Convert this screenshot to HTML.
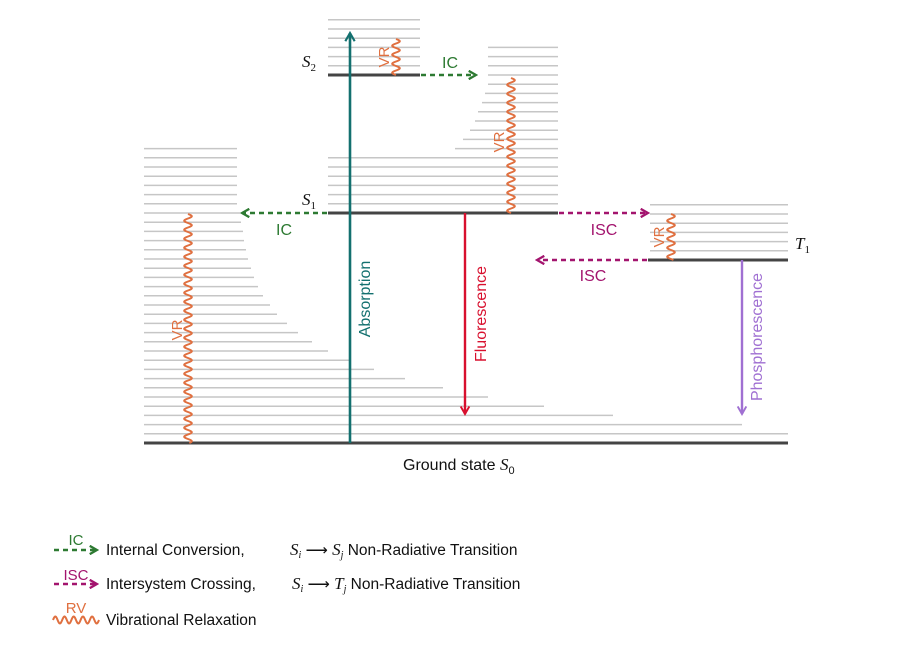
<!DOCTYPE html>
<html><head><meta charset="utf-8">
<style>
html,body{margin:0;padding:0;background:#fff;}
svg{display:block;}
text{font-family:"Liberation Sans",sans-serif;}
.m{font-family:"Liberation Serif",serif;font-style:italic;}
</style></head>
<body>
<svg id="chart" width="903" height="650" viewBox="0 0 903 650" xmlns="http://www.w3.org/2000/svg">
<defs>
<marker id="ahG" viewBox="0 0 10 10" refX="8" refY="5" markerWidth="4" markerHeight="4" orient="auto"><path d="M1,1 L8,5 L1,9" fill="none" stroke="#2d7a32" stroke-width="2.2"/></marker>
<marker id="ahM" viewBox="0 0 10 10" refX="8" refY="5" markerWidth="4" markerHeight="4" orient="auto"><path d="M1,1 L8,5 L1,9" fill="none" stroke="#a3146e" stroke-width="2.2"/></marker>
<marker id="ahT" viewBox="0 0 10 10" refX="8" refY="5" markerWidth="4.5" markerHeight="4.5" orient="auto"><path d="M1,1 L8,5 L1,9" fill="none" stroke="#13706f" stroke-width="1.8"/></marker>
<marker id="ahR" viewBox="0 0 10 10" refX="8" refY="5" markerWidth="4.5" markerHeight="4.5" orient="auto"><path d="M1,1 L8,5 L1,9" fill="none" stroke="#d8102e" stroke-width="1.8"/></marker>
<marker id="ahP" viewBox="0 0 10 10" refX="8" refY="5" markerWidth="4.5" markerHeight="4.5" orient="auto"><path d="M1,1 L8,5 L1,9" fill="none" stroke="#a070d2" stroke-width="1.8"/></marker>
</defs>
<g id="vib"></g>
<g id="levels"></g>
<g id="waves"></g>

<line x1="350" y1="443" x2="350" y2="33" stroke="#13706f" stroke-width="2.6" marker-end="url(#ahT)"/>
<line x1="465" y1="213" x2="465" y2="414" stroke="#d8102e" stroke-width="2.4" marker-end="url(#ahR)"/>
<line x1="742" y1="260" x2="742" y2="414" stroke="#a070d2" stroke-width="2.4" marker-end="url(#ahP)"/>
<line x1="421" y1="75" x2="476" y2="75" stroke="#2d7a32" stroke-width="2.6" stroke-dasharray="5,4" marker-end="url(#ahG)"/>
<line x1="327" y1="213" x2="242" y2="213" stroke="#2d7a32" stroke-width="2.6" stroke-dasharray="5,4" marker-end="url(#ahG)"/>
<line x1="559" y1="213" x2="648" y2="213" stroke="#a3146e" stroke-width="2.6" stroke-dasharray="5,4" marker-end="url(#ahM)"/>
<line x1="647" y1="260" x2="537" y2="260" stroke="#a3146e" stroke-width="2.6" stroke-dasharray="5,4" marker-end="url(#ahM)"/>

<text x="450" y="68" font-size="16" fill="#2d7a32" text-anchor="middle">IC</text>
<text x="284" y="235" font-size="16" fill="#2d7a32" text-anchor="middle">IC</text>
<text x="604" y="235" font-size="16" fill="#a3146e" text-anchor="middle">ISC</text>
<text x="593" y="281" font-size="16" fill="#a3146e" text-anchor="middle">ISC</text>
<text transform="translate(370,299) rotate(-90)" font-size="16" fill="#13706f" text-anchor="middle">Absorption</text>
<text transform="translate(486,314) rotate(-90)" font-size="16" fill="#d8102e" text-anchor="middle">Fluorescence</text>
<text transform="translate(762,337) rotate(-90)" font-size="16" fill="#a070d2" text-anchor="middle">Phosphorescence</text>
<text transform="translate(389,57) rotate(-90)" font-size="15" fill="#e07040" text-anchor="middle">VR</text>
<text transform="translate(504,142) rotate(-90)" font-size="15" fill="#e07040" text-anchor="middle">VR</text>
<text transform="translate(664,237) rotate(-90)" font-size="15" fill="#e07040" text-anchor="middle">VR</text>
<text transform="translate(182,330) rotate(-90)" font-size="15" fill="#e07040" text-anchor="middle">VR</text>
<text x="302" y="67" font-size="17" class="m" fill="#111">S<tspan font-size="11" font-style="normal" dy="4">2</tspan></text>
<text x="302" y="205" font-size="17" class="m" fill="#111">S<tspan font-size="11" font-style="normal" dy="4">1</tspan></text>
<text x="795" y="249" font-size="17" class="m" fill="#111">T<tspan font-size="11" font-style="normal" dy="4">1</tspan></text>
<text x="403" y="470" font-size="16" fill="#111">Ground state <tspan class="m" font-size="17">S</tspan><tspan font-size="11" dy="4">0</tspan></text>

<g>
<g>
<text x="76" y="545" font-size="15" fill="#2d7a32" text-anchor="middle">IC</text>
<line x1="54" y1="550" x2="97" y2="550" stroke="#2d7a32" stroke-width="2.6" stroke-dasharray="5,4" marker-end="url(#ahG)"/>
<text x="106" y="555" font-size="15.5" fill="#111">Internal Conversion,</text>
<text x="290" y="555" font-size="15.5" fill="#111"><tspan class="m" font-size="17">S</tspan><tspan font-size="10" class="m" dy="3">i</tspan><tspan dy="-3"> ⟶ </tspan><tspan class="m" font-size="17">S</tspan><tspan font-size="10" class="m" dy="3">j</tspan><tspan dy="-3"> Non-Radiative Transition</tspan></text>
</g>
<g>
<text x="76" y="580" font-size="15" fill="#a3146e" text-anchor="middle">ISC</text>
<line x1="54" y1="584" x2="97" y2="584" stroke="#a3146e" stroke-width="2.6" stroke-dasharray="5,4" marker-end="url(#ahM)"/>
<text x="106" y="589" font-size="15.5" fill="#111">Intersystem Crossing,</text>
<text x="292" y="589" font-size="15.5" fill="#111"><tspan class="m" font-size="17">S</tspan><tspan font-size="10" class="m" dy="3">i</tspan><tspan dy="-3"> ⟶ </tspan><tspan class="m" font-size="17">T</tspan><tspan font-size="10" class="m" dy="3">j</tspan><tspan dy="-3"> Non-Radiative Transition</tspan></text>
</g>
<g>
<text x="76" y="613" font-size="15" fill="#e07040" text-anchor="middle">RV</text>
<path id="legwave" d="" fill="none" stroke="#e07040" stroke-width="2"/>
<text x="106" y="625" font-size="15.5" fill="#111">Vibrational Relaxation</text>
</g>
</g>
</svg>
<script>
const groundY = 443, s1Y = 213, s2Y = 75, t1Y = 260;
const spacing = 9.2;
const s0Ends = [788,742,613,544,488,443,405,374,350,328,312,298,287,277,270,263,258,254,251,248,246,244,243,241,240,237,237,237,237,237,237,237];
const s1Starts = [328,328,328,328,328,328,455,463,470,475,478,482,485,488,488,488,488,488];
const s2Count = 6, t1Count = 6;
const NS='http://www.w3.org/2000/svg';
const vib=document.getElementById('vib'), lev=document.getElementById('levels'), wav=document.getElementById('waves');
function ln(g,x1,y1,x2,y2,c,w){const l=document.createElementNS(NS,'line');l.setAttribute('x1',x1);l.setAttribute('y1',y1);l.setAttribute('x2',x2);l.setAttribute('y2',y2);l.setAttribute('stroke',c);l.setAttribute('stroke-width',w);g.appendChild(l);return l;}
s0Ends.forEach((e,i)=>{const l=ln(vib,144,groundY-spacing*(i+1),e,groundY-spacing*(i+1),'#c6c6c6',1.5);

});
s1Starts.forEach((s,i)=>{const l=ln(vib,s,s1Y-spacing*(i+1),558,s1Y-spacing*(i+1),'#c6c6c6',1.5);

});
for(let i=0;i<s2Count;i++){const l=ln(vib,328,s2Y-spacing*(i+1),420,s2Y-spacing*(i+1),'#c6c6c6',1.5);

}
for(let i=0;i<t1Count;i++){const l=ln(vib,650,t1Y-spacing*(i+1),788,t1Y-spacing*(i+1),'#c6c6c6',1.5);

}
let L;
L=ln(lev,144,groundY,788,groundY,'#444',3);


L=ln(lev,328,s1Y,558,s1Y,'#444',3);


L=ln(lev,328,s2Y,420,s2Y,'#444',3);


L=ln(lev,648,t1Y,788,t1Y,'#444',3);


function waveV(x,y1,y2){const per=9,amp=3.8;let d='';for(let y=y1;y<=y2+0.01;y+=0.5){const xx=x+amp*Math.sin((y-y1)/per*2*Math.PI);d+=(d?' L':'M')+xx.toFixed(2)+','+y.toFixed(2);}return d;}
function addWave(x,y1,y2,name){const p=document.createElementNS(NS,'path');p.setAttribute('d',waveV(x,y1,y2));p.setAttribute('fill','none');p.setAttribute('stroke','#e07040');p.setAttribute('stroke-width',2);


wav.appendChild(p);}
addWave(396,39,75,'vr-wave-s2');
addWave(511,78,213,'vr-wave-s1');
addWave(671,214,260,'vr-wave-t1');
addWave(188,214,443,'vr-wave-s0');
(function(){let d='';for(let x=53;x<=99;x+=0.5){const y=620-3.5*Math.sin((x-53)/9.2*2*Math.PI);d+=(d?' L':'M')+x+','+y.toFixed(2);}document.getElementById('legwave').setAttribute('d',d);})();
</script>
</body></html>
